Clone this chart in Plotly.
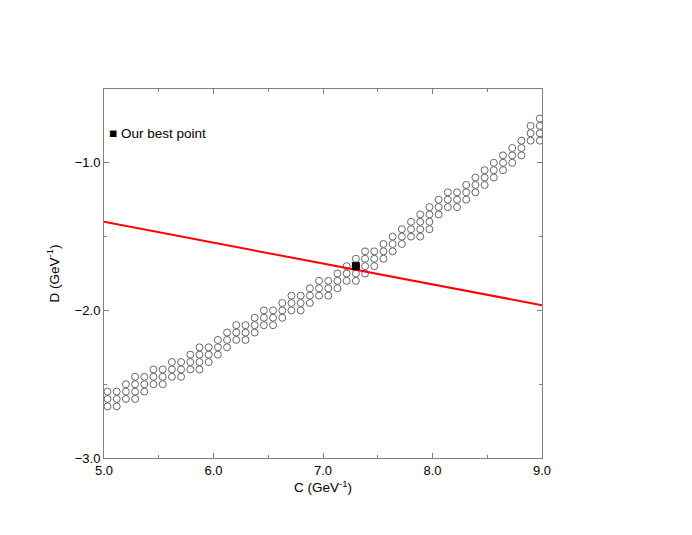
import plotly.graph_objects as go

# Scan columns: C values (GeV^-1)
scan_C = [5.032, 5.116, 5.200, 5.284, 5.368, 5.452, 5.536, 5.620, 5.704, 5.788,
          5.872, 5.956, 6.040, 6.124, 6.208, 6.292, 6.376, 6.460, 6.544, 6.628,
          6.712, 6.796, 6.880, 6.964, 7.048, 7.132, 7.216, 7.300, 7.384, 7.468,
          7.552, 7.636, 7.720, 7.804, 7.888, 7.972, 8.056, 8.140, 8.224, 8.308,
          8.392, 8.476, 8.560, 8.644, 8.728, 8.812, 8.896, 8.980]
# Allowed D values (GeV^-1) for each column
scan_D = [
    [-2.65, -2.60, -2.55],
    [-2.65, -2.60, -2.55],
    [-2.60, -2.55, -2.50],
    [-2.60, -2.55, -2.50, -2.45],
    [-2.55, -2.50, -2.45],
    [-2.50, -2.45, -2.40],
    [-2.50, -2.45, -2.40],
    [-2.45, -2.40, -2.35],
    [-2.45, -2.40, -2.35],
    [-2.40, -2.35, -2.30],
    [-2.40, -2.35, -2.30, -2.25],
    [-2.35, -2.30, -2.25],
    [-2.30, -2.25, -2.20],
    [-2.25, -2.20, -2.15],
    [-2.20, -2.15, -2.10],
    [-2.20, -2.15, -2.10],
    [-2.15, -2.10, -2.05],
    [-2.10, -2.05, -2.00],
    [-2.10, -2.05, -2.00],
    [-2.05, -2.00, -1.95],
    [-2.00, -1.95, -1.90],
    [-2.00, -1.95, -1.90],
    [-1.95, -1.90, -1.85],
    [-1.90, -1.85, -1.80],
    [-1.90, -1.85, -1.80],
    [-1.85, -1.80, -1.75],
    [-1.80, -1.75, -1.70],
    [-1.80, -1.75, -1.70, -1.65],
    [-1.75, -1.70, -1.65, -1.60],
    [-1.70, -1.65, -1.60],
    [-1.65, -1.60, -1.55],
    [-1.60, -1.55, -1.50],
    [-1.55, -1.50, -1.45],
    [-1.50, -1.45, -1.40],
    [-1.50, -1.45, -1.40, -1.35],
    [-1.45, -1.40, -1.35, -1.30],
    [-1.35, -1.30, -1.25],
    [-1.30, -1.25, -1.20],
    [-1.30, -1.25, -1.20],
    [-1.25, -1.20, -1.15],
    [-1.20, -1.15, -1.10],
    [-1.15, -1.10, -1.05],
    [-1.10, -1.05, -1.00],
    [-1.05, -1.00, -0.95],
    [-1.00, -0.95, -0.90],
    [-0.95, -0.90, -0.85],
    [-0.85, -0.80, -0.75],
    [-0.85, -0.80, -0.75, -0.70],
]

# Red constraint line
line_C = [5.0, 9.0]
line_D = [-1.40, -1.965]

# Best point
best_C = [7.30]
best_D = [-1.70]

x_ticks = [5.0, 6.0, 7.0, 8.0, 9.0]
y_ticks = [-3.0, -2.0, -1.0]

pts_C = [c for c, ds in zip(scan_C, scan_D) for _ in ds]
pts_D = [d for ds in scan_D for d in ds]

FONT = "Liberation Sans, Arial, sans-serif"

fig = go.Figure()
fig.add_trace(go.Scatter(
    x=pts_C, y=pts_D, mode="markers",
    marker=dict(symbol="circle-open", size=7, color="#666666", line=dict(width=1, color="#666666")),
    showlegend=False, cliponaxis=True))
fig.add_trace(go.Scatter(
    x=line_C, y=line_D, mode="lines",
    line=dict(color="#ff0000", width=2), showlegend=False))
fig.add_trace(go.Scatter(
    x=best_C, y=best_D, mode="markers",
    marker=dict(symbol="square", size=8, color="black"),
    showlegend=False))

fig.add_annotation(
    x=0.0, y=0.88, xref="paper", yref="paper", xanchor="left", yanchor="middle",
    xshift=3, text="■ Our best point", showarrow=False,
    font=dict(family=FONT, size=13.5, color="black"))

axis_common = dict(
    showgrid=False, zeroline=False, showline=True, linecolor="#7f7f7f", linewidth=1,
    mirror="ticks", ticks="inside", ticklen=5, tickcolor="#7f7f7f", tickwidth=1,
    tickfont=dict(family=FONT, size=13, color="black"),
    minor=dict(ticks="inside", ticklen=3, dtick=0.5, tickcolor="#7f7f7f", showgrid=False),
)

fig.update_xaxes(
    range=[5.0, 9.0], tickvals=x_ticks, tickformat=".1f",
    title=dict(text="C (GeV<sup>-1</sup>)", standoff=3,
               font=dict(family=FONT, size=13.5, color="black")),
    **axis_common)
fig.update_yaxes(
    range=[-3.0, -0.5], tickvals=y_ticks, tickformat=".1f",
    title=dict(text="D (GeV<sup>-1</sup>)", standoff=12,
               font=dict(family=FONT, size=13.5, color="black")),
    **axis_common)

fig.update_layout(
    width=692, height=535,
    margin=dict(l=96, r=158, t=81, b=85),
    plot_bgcolor="white", paper_bgcolor="white",
)

fig.write_html("out.html")
